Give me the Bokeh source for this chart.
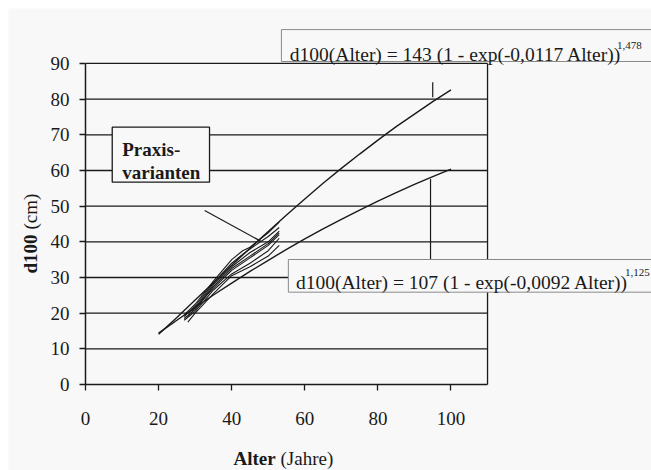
from bokeh.plotting import figure
from bokeh.models import Label, BoxAnnotation, Range1d, FixedTicker
from bokeh.embed import file_html
from bokeh.resources import INLINE

# ---- data ----
model_ages = [20, 25, 30, 35, 40, 45, 50, 55, 60, 65, 70, 75, 80, 85, 90, 95, 100]
upper_d100 = [14.1, 18.8, 23.7, 28.5, 33.4, 38.2, 42.9, 47.5, 52.0, 56.4, 60.6, 64.6, 68.5, 72.3, 75.8, 79.3, 82.6]
lower_d100 = [14.4, 18.0, 21.6, 25.1, 28.4, 31.7, 34.8, 37.9, 40.8, 43.6, 46.3, 48.9, 51.4, 53.8, 56.1, 58.3, 60.4]

praxis_ages = [
    [27, 30, 35, 40, 43, 45, 50, 53],
    [27, 30, 35, 40, 43, 45, 50, 53],
    [28, 30, 35, 40, 45, 50, 53],
    [27, 30, 35, 40, 45, 50, 53],
    [28, 30, 35, 40, 45, 50, 53],
    [27, 30, 35, 40, 45, 50, 53],
    [28, 30, 35, 40, 45, 50, 53],
]
praxis_d100 = [
    [19.5, 22.5, 29.0, 35.0, 37.5, 38.5, 42.5, 45.5],
    [19.0, 22.0, 28.5, 34.0, 36.5, 38.0, 41.5, 44.0],
    [19.0, 21.5, 28.0, 33.0, 37.0, 40.0, 43.0],
    [18.5, 21.0, 27.5, 32.5, 36.0, 39.5, 42.5],
    [20.0, 21.5, 27.0, 32.0, 35.5, 39.0, 42.0],
    [18.0, 20.5, 26.5, 31.0, 34.0, 37.5, 41.0],
    [17.5, 20.0, 25.5, 30.5, 33.0, 36.0, 39.0],
]

x_ticks = [0, 20, 40, 60, 80, 100]
y_ticks = [0, 10, 20, 30, 40, 50, 60, 70, 80, 90]
x_max = 110
y_max = 90

upper_formula = "d100(Alter) = 143 (1 - exp(-0,0117 Alter))"
upper_exponent = "1,478"
lower_formula = "d100(Alter) = 107 (1 - exp(-0,0092 Alter))"
lower_exponent = "1,125"

BG = "#f8f8f8"
INK = "#1a1a1a"
FONT = "Liberation Serif"

p = figure(width=643, height=462, margin=(8, 0, 0, 8),
           x_range=Range1d(-21.07, 154.86), y_range=Range1d(-24.11, 105.41),
           output_backend="svg", toolbar_location=None,
           min_border_left=0, min_border_right=0, min_border_top=0, min_border_bottom=0)
p.title.visible = False
p.background_fill_color = BG
p.border_fill_color = BG
p.outline_line_color = None
p.grid.visible = False

p.xaxis.ticker = FixedTicker(ticks=x_ticks)
p.yaxis.ticker = FixedTicker(ticks=y_ticks)
p.xaxis.fixed_location = 0
p.yaxis.fixed_location = 0
p.xaxis.bounds = (0, x_max)
p.yaxis.bounds = (0, y_max)
for ax in (p.xaxis, p.yaxis):
    ax.axis_line_color = INK
    ax.axis_line_width = 1.5
    ax.major_tick_line_color = INK
    ax.major_tick_line_width = 1.3
    ax.major_tick_out = 6
    ax.major_tick_in = 0
    ax.minor_tick_line_color = None
    ax.major_label_text_font = FONT
    ax.major_label_text_font_size = "19px"
    ax.major_label_text_color = INK
p.xaxis.major_label_standoff = 22
p.yaxis.major_label_standoff = 10

# horizontal grid lines and right frame border
grid_y = [t for t in y_ticks if t > 0]
p.segment(x0=[0] * len(grid_y), y0=grid_y, x1=[x_max] * len(grid_y), y1=grid_y,
          line_color=INK, line_width=1.3)
p.segment(x0=[x_max], y0=[0], x1=[x_max], y1=[y_max], line_color=INK, line_width=1.3)

# model curves
p.line(model_ages, upper_d100, line_color=INK, line_width=1.4)
p.line(model_ages, lower_d100, line_color=INK, line_width=1.4)

# practice variants
for a, d in zip(praxis_ages, praxis_d100):
    p.line(a, d, line_color=INK, line_width=1.1)

# leader lines
p.segment(x0=[95.0, 94.4, 32.6], y0=[80.5, 57.6, 48.8], x1=[95.0, 94.4, 47.9], y1=[84.7, 35.0, 40.2],
          line_color=INK, line_width=1.2)

# boxes
p.add_layout(BoxAnnotation(left=53.6, right=160, bottom=90.55, top=99.5,
                           fill_color=BG, fill_alpha=1, line_color="#8a8a8a", line_alpha=1, line_width=1))
p.add_layout(BoxAnnotation(left=55.5, right=160, bottom=25.88, top=35.04,
                           fill_color=BG, fill_alpha=1, line_color="#8a8a8a", line_alpha=1, line_width=1))
p.add_layout(BoxAnnotation(left=7.31, right=33.93, bottom=56.71, top=72.13,
                           fill_color=BG, fill_alpha=1, line_color=INK, line_alpha=1, line_width=1.3))

def txt(x, y, s, size="19.5px", style="normal", align="left", baseline="alphabetic", angle=0):
    p.add_layout(Label(x=x, y=y, text=s, text_font=FONT, text_font_size=size, text_font_style=style,
                       text_color=INK, text_align=align, text_baseline=baseline, angle=angle))

txt(55.9, 92.43, upper_formula)
txt(145.4, 94.9, upper_exponent, size="11px")
txt(57.6, 28.68, lower_formula)
txt(147.6, 31.3, lower_exponent, size="11px")

txt(10.04, 65.88, "Praxis-", size="19px", style="bold")
txt(10.04, 59.52, "varianten", size="19px", style="bold")

# axis titles (bold + normal parts)
txt(40.5, -20.75, "Alter", size="19px", style="bold")
txt(53.35, -20.75, "(Jahre)", size="19px")
txt(-15.05, 31.12, "d100", size="19px", style="bold", baseline="middle", angle=1.5707963)
txt(-15.05, 43.45, "(cm)", size="19px", baseline="middle", angle=1.5707963)

open("out.html", "w").write(file_html(p, INLINE))
